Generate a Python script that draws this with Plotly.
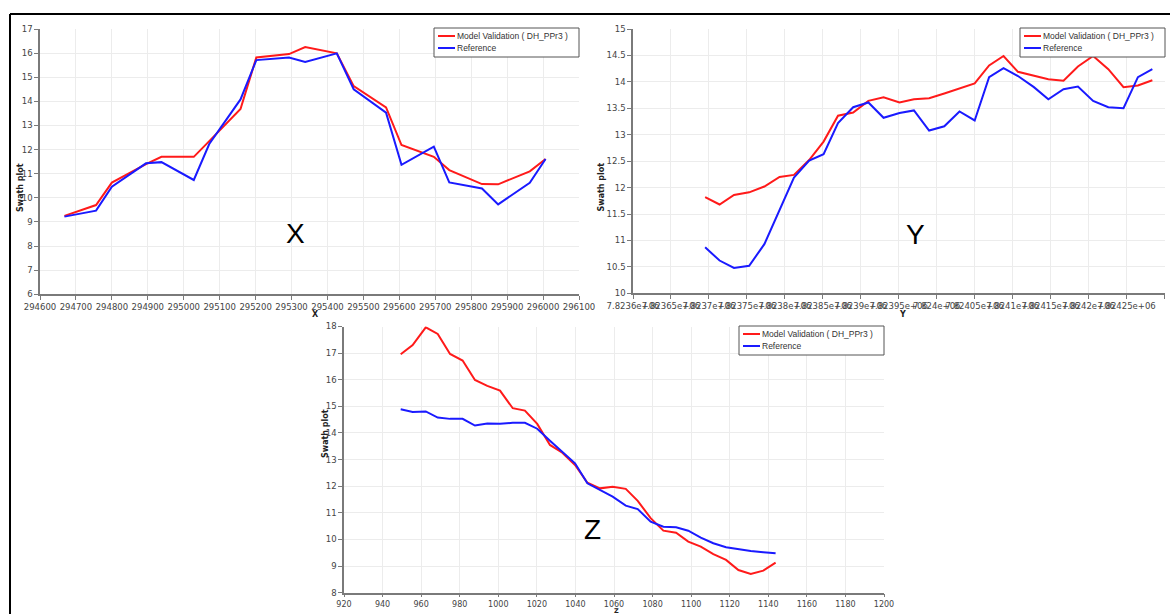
import plotly.graph_objects as go

W, H = 1170, 614

# ---------------- data ----------------
x_pos = [294668, 294756, 294800, 294895, 294938, 295028, 295071, 295158, 295202, 295293,
         295338, 295426, 295473, 295563, 295606, 295696, 295739, 295830, 295875, 295963, 296007]
x_model = [9.25, 9.70, 10.63, 11.40, 11.70, 11.70, 12.35, 13.68, 15.82, 15.96,
           16.25, 15.99, 14.63, 13.75, 12.19, 11.70, 11.15, 10.57, 10.56, 11.10, 11.61]
x_ref = [9.22, 9.47, 10.46, 11.43, 11.48, 10.74, 12.23, 14.08, 15.71, 15.82,
         15.63, 15.99, 14.50, 13.53, 11.37, 12.12, 10.64, 10.39, 9.73, 10.62, 11.61]

y_pos = [7823695, 7823714, 7823733, 7823753, 7823773, 7823793, 7823812, 7823832, 7823851, 7823870,
         7823890, 7823910, 7823930, 7823951, 7823970, 7823990, 7824010, 7824030, 7824050, 7824069,
         7824088, 7824107, 7824128, 7824147, 7824167, 7824186, 7824206, 7824226, 7824246, 7824265,
         7824284]
y_model = [11.82, 11.68, 11.86, 11.91, 12.02, 12.20, 12.24, 12.52, 12.87, 13.36,
           13.42, 13.64, 13.71, 13.61, 13.67, 13.69, 13.78, 13.87, 13.97, 14.31,
           14.49, 14.19, 14.11, 14.05, 14.02, 14.29, 14.49, 14.24, 13.90, 13.93, 14.03]
y_ref = [10.87, 10.62, 10.48, 10.52, 10.93, 11.58, 12.19, 12.51, 12.63, 13.22,
         13.52, 13.61, 13.32, 13.41, 13.46, 13.08, 13.16, 13.44, 13.27, 14.09,
         14.26, 14.11, 13.90, 13.67, 13.86, 13.91, 13.64, 13.52, 13.50, 14.09, 14.24]

z_pos = [949.4, 955.6, 962.4, 968.6, 975.0, 981.5, 987.9, 994.3, 1000.9, 1007.5,
         1013.8, 1020.2, 1026.8, 1033.2, 1039.8, 1046.2, 1052.7, 1059.3, 1066.1, 1072.3,
         1079.0, 1085.6, 1092.2, 1098.5, 1105.0, 1111.5, 1118.1, 1124.5, 1130.9, 1137.4, 1143.8]
z_model = [16.96, 17.30, 17.97, 17.72, 16.97, 16.72, 15.99, 15.77, 15.59, 14.93,
           14.84, 14.34, 13.55, 13.26, 12.80, 12.13, 11.92, 11.98, 11.90, 11.45,
           10.80, 10.33, 10.25, 9.92, 9.73, 9.45, 9.23, 8.85, 8.70, 8.83, 9.13]
z_ref = [14.89, 14.79, 14.81, 14.58, 14.53, 14.53, 14.28, 14.36, 14.35, 14.38,
         14.38, 14.16, 13.71, 13.30, 12.86, 12.11, 11.86, 11.61, 11.27, 11.14,
         10.67, 10.48, 10.46, 10.33, 10.07, 9.86, 9.71, 9.63, 9.57, 9.52, 9.48]

series_names = ["Model Validation ( DH_PPr3 )", "Reference"]

y_tickvals = [7823600, 7823650, 7823700, 7823750, 7823800, 7823850, 7823900, 7823950,
              7824000, 7824050, 7824100, 7824150, 7824200, 7824250, 7824300]
y_ticktext = ["7.8236e+06", "7.82365e+06", "7.8237e+06", "7.82375e+06", "7.8238e+06",
              "7.82385e+06", "7.8239e+06", "7.82395e+06", "7.824e+06", "7.82405e+06",
              "7.8241e+06", "7.82415e+06", "7.8242e+06", "7.82425e+06", "7.8243e+06"]

panel_letters = ["X", "Y", "Z"]

# ---------------- styling ----------------
RED = "#ff1a1a"
BLUE = "#1a1aff"
COLORS = [RED, BLUE]
AX = "#7a7a7a"
GRID = "#ececec"
TICKFONT = dict(family="DejaVu Sans", size=8.5, color="#444444")


def px(x):
    return x / W


def py(y):
    return 1 - y / H


fig = go.Figure()

panels = [
    (x_pos, x_model, x_ref, "x", "y"),
    (y_pos, y_model, y_ref, "x2", "y2"),
    (z_pos, z_model, z_ref, "x3", "y3"),
]
for xs, m, r, xa, ya in panels:
    for vals, name, col in zip([m, r], series_names, COLORS):
        fig.add_trace(go.Scatter(x=xs, y=vals, mode="lines", name=name,
                                 line=dict(color=col, width=2), xaxis=xa, yaxis=ya,
                                 showlegend=False))

common = dict(showline=True, linecolor=AX, linewidth=1.5, ticks="outside", ticklen=4,
              tickcolor=AX, tickwidth=1, showgrid=True, gridcolor=GRID, gridwidth=1,
              zeroline=False, tickfont=TICKFONT, tickangle=0, mirror=False,
              automargin=False)

fig.update_layout(
    template="none",
    width=W, height=H, margin=dict(l=0, r=0, t=0, b=0, pad=0),
    paper_bgcolor="white", plot_bgcolor="white", showlegend=False,
    xaxis=dict(domain=[px(40), px(579)], range=[294600, 296100], dtick=100,
               tickformat="d", anchor="y", **common),
    yaxis=dict(domain=[py(294.3), py(29)], range=[6, 17], dtick=1, anchor="x", **common),
    xaxis2=dict(domain=[px(633), px(1164.5)], range=[7823600, 7824300],
                tickvals=y_tickvals, ticktext=y_ticktext, anchor="y2", **common),
    yaxis2=dict(domain=[py(293.3), py(29)], range=[10, 15], dtick=0.5, anchor="x2", **common),
    xaxis3=dict(domain=[px(344), px(884)], range=[920, 1200], dtick=20, anchor="y3", **common),
    yaxis3=dict(domain=[py(592.7), py(326.5)], range=[8, 18], dtick=1, anchor="x3", **common),
)
fig.update_layout(xaxis3=dict(ticklen=3, tickfont=dict(size=8)))

ann = []
shapes = []
# big panel letters
for letter, (cx, cy) in zip(panel_letters, [(284, 234), (927, 235), (592, 547)]):
    ann.append(dict(text=letter, x=px(cx), y=py(cy), xref="paper", yref="paper",
                    showarrow=False, font=dict(family="Liberation Sans", size=28, color="black")))
# x-axis titles
ann.append(dict(text="<b>X</b>", x=px(310), y=py(314), xref="paper", yref="paper",
                showarrow=False, font=dict(family="DejaVu Sans", size=8, color="#222222")))
ann.append(dict(text="<b>Y</b>", x=px(908), y=py(314), xref="paper", yref="paper",
                showarrow=False, font=dict(family="DejaVu Sans", size=8, color="#222222")))
ann.append(dict(text="<b>Z</b>", x=px(616), y=-0.004, yanchor="bottom", xref="paper", yref="paper",
                showarrow=False, borderpad=0,
                font=dict(family="DejaVu Sans", size=6.5, color="#222222")))
# y-axis titles
for (cx, cy) in [(14, 161), (601, 161), (319, 460)]:
    ann.append(dict(text="<b>Swath plot</b>", x=px(cx), y=py(cy), xref="paper", yref="paper",
                    showarrow=False, textangle=-90,
                    font=dict(family="DejaVu Sans", size=8, color="#222222")))

# legend boxes (one per panel)
for (lx, ly) in [(434, 28), (1020, 28), (739, 326)]:
    shapes.append(dict(type="rect", xref="paper", yref="paper",
                       x0=px(lx), x1=px(lx + 145), y0=py(ly), y1=py(ly + 29),
                       line=dict(color="#555555", width=1), fillcolor="white", layer="above"))
    for i, (name, col) in enumerate(zip(series_names, COLORS)):
        yy = ly + 8 + 12 * i
        shapes.append(dict(type="line", xref="paper", yref="paper",
                           x0=px(lx + 4), x1=px(lx + 21), y0=py(yy), y1=py(yy),
                           line=dict(color=col, width=2), layer="above"))
        ann.append(dict(text=name, x=px(lx + 22), y=py(yy), xanchor="left", yanchor="middle",
                        xref="paper", yref="paper", showarrow=False, borderpad=0,
                        font=dict(family="Liberation Sans", size=8.5, color="#333333")))

# outer frame (top and left edges)
shapes.append(dict(type="line", xref="paper", yref="paper", x0=px(10), x1=1.0, y0=py(14), y1=py(14),
                   line=dict(color="black", width=2)))
shapes.append(dict(type="line", xref="paper", yref="paper", x0=px(10), x1=px(10), y0=py(14), y1=0,
                   line=dict(color="black", width=2)))

fig.update_layout(annotations=ann, shapes=shapes)

fig.write_html("out.html")
